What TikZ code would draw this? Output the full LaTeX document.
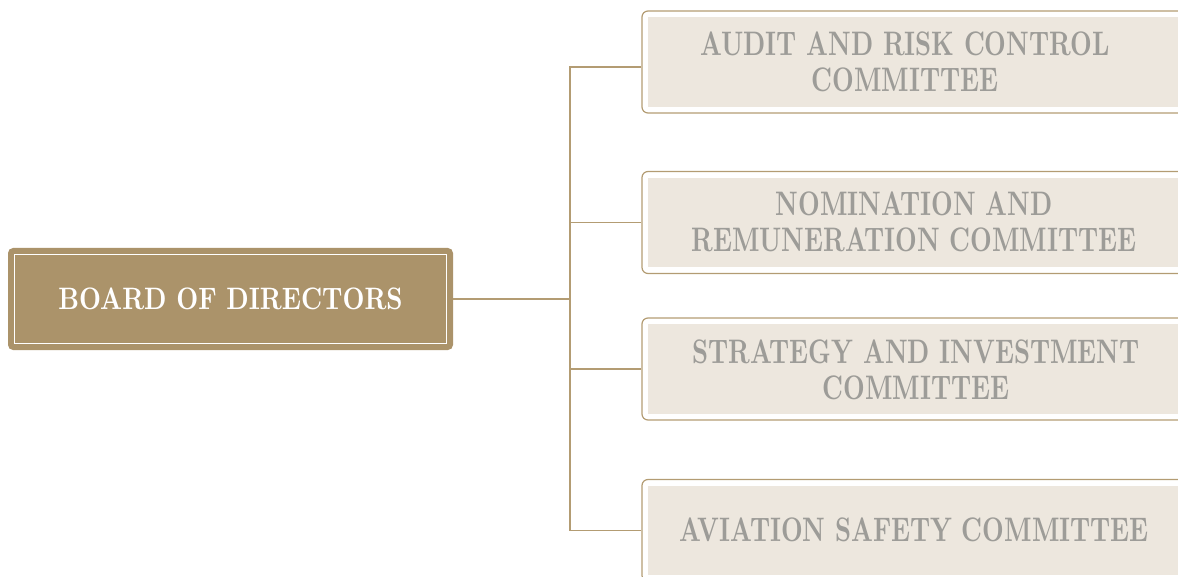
\documentclass[tikz,border=0pt]{standalone}
\usepackage{fontspec}
\usetikzlibrary{calc}
\newfontfamily\boardfont{lmroman10-bold.otf}[FakeStretch=0.82]
\newfontfamily\comfont{lmroman10-bold.otf}[FakeStretch=0.74]
\definecolor{tan}{HTML}{AB936A}
\definecolor{rule}{HTML}{B39C73}
\definecolor{paper}{HTML}{EDE7DE}
\definecolor{greytext}{HTML}{9D9C98}

\begin{document}
\begin{tikzpicture}[x=0.5pt, y=-0.5pt,
  board/.style={fill=tan, rounded corners=2.5pt, minimum width=222.5pt, minimum height=51pt, inner sep=0pt},
  cbox/.style={draw=rule, line width=0.6pt, rounded corners=3pt, minimum width=274pt, minimum height=51pt, inner sep=0pt},
  ctext/.style={text=greytext, align=center, inner sep=0pt, font=\comfont\fontsize{17}{18}\selectfont},
  link/.style={draw=rule, line width=0.6pt}]

  \useasboundingbox (0,0) rectangle (1178,577);
  \clip (0,0) rectangle (1178,577);

  % left box
  \node [board] (board) at (230.5,299) {};
  \draw [white, line width=0.5pt] ($(board.north west)+(6.5,6.5)$) rectangle ($(board.south east)+(-6.5,-6.5)$);
  \node [text=white, font=\boardfont\fontsize{15.5}{18}\selectfont] (boardtext) at (board.center) {BOARD OF DIRECTORS};

  % committees
  \foreach \name/\y in {audit/62, nomination/222.5, strategy/369, aviation/530.5}{
    \node [cbox] (\name) at (916,\y) {};
    \fill [paper] ($(\name.north west)+(7,7)$) rectangle ($(\name.south east)+(-7,-7)$);
  }
  \node [ctext] (audittext) at (905,61.5) {AUDIT AND RISK CONTROL\\COMMITTEE};
  \node [ctext] (nominationtext) at (914,222) {NOMINATION AND\\REMUNERATION COMMITTEE};
  \node [ctext] (strategytext) at (916,369.5) {STRATEGY AND INVESTMENT\\COMMITTEE};
  \node [ctext] (aviationtext) at (914,530) {AVIATION SAFETY COMMITTEE};

  % lines
  \coordinate (fork) at (570,299);
  \draw [link] (board.east) -- (fork);
  \draw [link] (fork) |- ($(audit.west)+(0,5)$);
  \draw [link] (fork) |- (nomination.west);
  \draw [link] (fork) |- (strategy.west);
  \draw [link] (fork) |- (aviation.west);
\end{tikzpicture}
\end{document}
